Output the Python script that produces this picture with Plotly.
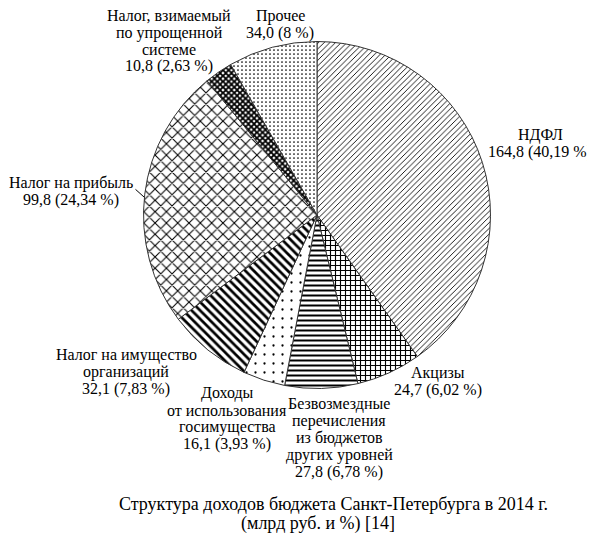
import plotly.graph_objects as go

# page has an 8px body margin, so the figure is shrunk and shifted to fit the window
WIN_W, WIN_H = 595, 535
OFF = 8
W, H = WIN_W - OFF, WIN_H - OFF

# data, clockwise from 12 o'clock
categories = [
    "НДФЛ",
    "Акцизы",
    "Безвозмездные\nперечисления\nиз бюджетов\nдругих уровней",
    "Доходы\nот использования\nгосимущества",
    "Налог на имущество\nорганизаций",
    "Налог на прибыль",
    "Налог, взимаемый\nпо упрощенной\nсистеме",
    "Прочее",
]
values = [164.8, 24.7, 27.8, 16.1, 32.1, 99.8, 10.8, 34.0]
percents = ["40,19", "6,02", "6,78", "3,93", "7,83", "24,34", "2,63", "8"]

# pattern per slice
shapes = ["/", "+", "-", ".", "\\", "x", "x", "."]
sizes = [4, 5, 5, 9, 6, 8, 4, 4]
solid = [0.22, 0.4, 0.4, 0.05, 0.45, 0.25, 0.7, 0.15]

# label placement in window px: center x, first line y, line step
label_pos = [
    (540, 135, 17),
    (438, 373, 17),
    (339, 404, 17),
    (227, 393, 17),
    (126, 355, 17),
    (71, 183, 17),
    (169, 16, 16.8),
    (280, 16.5, 17),
]

cx, cy, r = 317, 215, 173.5


def px(x):
    return (x - OFF) / W


def py(y):
    return 1 - (y - OFF) / H


fig = go.Figure(
    go.Pie(
        labels=[c.replace("\n", " ") for c in categories],
        values=values,
        sort=False,
        direction="clockwise",
        rotation=0,
        textinfo="none",
        hoverinfo="label+value",
        showlegend=False,
        marker=dict(
            colors=["white"] * len(values),
            line=dict(color="#333333", width=1),
            pattern=dict(
                shape=shapes,
                size=sizes,
                solidity=solid,
                fgcolor="black",
                bgcolor="white",
                fillmode="replace",
            ),
        ),
        domain=dict(x=[px(cx - r), px(cx + r)], y=[py(cy + r), py(cy - r)]),
    )
)

font = dict(family="Liberation Serif", size=16, color="black")
annotations = []
for cat, val, pct, (lx, ly, step) in zip(categories, values, percents, label_pos):
    lines = cat.split("\n") + [f"{val:.1f}".replace(".", ",") + f" ({pct} %)"]
    for i, line in enumerate(lines):
        annotations.append(dict(
            x=px(lx), y=py(ly + i * step), xref="paper", yref="paper",
            text=line, showarrow=False, xanchor="center", yanchor="middle",
            font=font,
        ))

# leader line for "Налог на прибыль"
annotations.append(dict(
    x=px(144), y=py(197), xref="paper", yref="paper", text="",
    showarrow=True, arrowhead=0, arrowwidth=1, arrowcolor="black",
    ax=-10, ay=-9,
))

title_font = dict(family="Liberation Serif", size=18, color="black")
annotations.append(dict(
    x=px(333), y=py(504), xref="paper", yref="paper",
    text="Структура доходов бюджета Санкт-Петербурга в 2014 г.",
    showarrow=False, xanchor="center", yanchor="middle", font=title_font,
))
annotations.append(dict(
    x=px(318), y=py(523.5), xref="paper", yref="paper",
    text="(млрд руб. и %) [14]",
    showarrow=False, xanchor="center", yanchor="middle", font=title_font,
))

fig.update_layout(
    width=W,
    height=H,
    margin=dict(l=0, r=0, t=0, b=0),
    paper_bgcolor="white",
    plot_bgcolor="white",
    annotations=annotations,
)
fig.write_html("out.html")
